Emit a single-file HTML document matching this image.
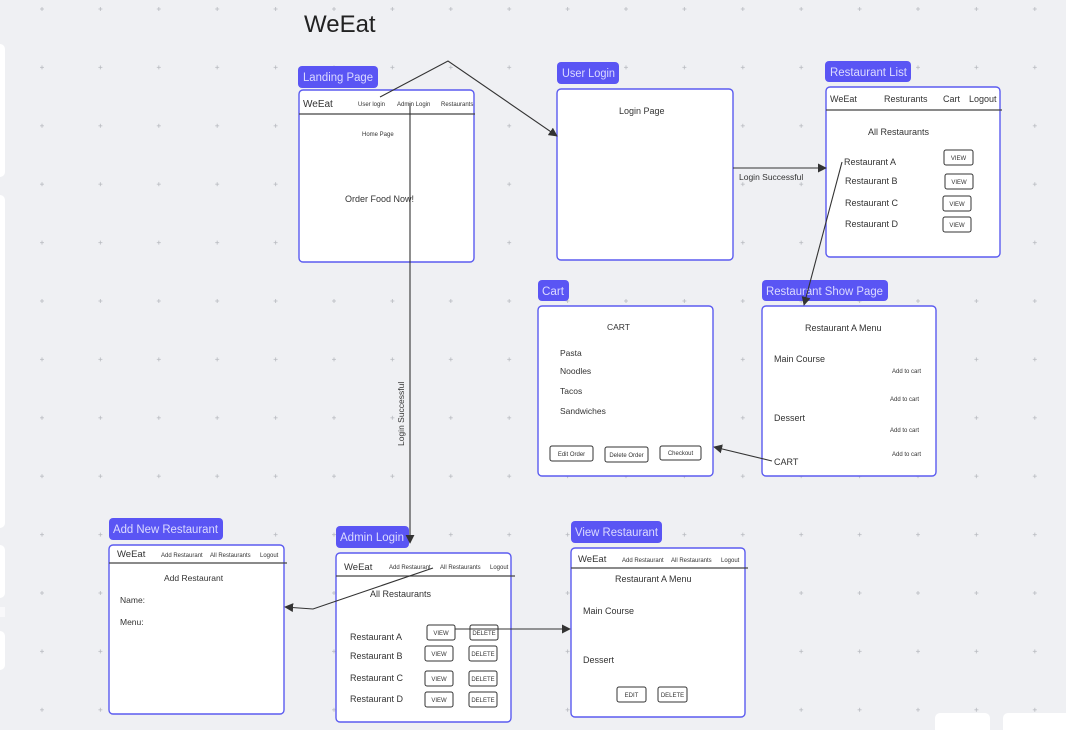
<!DOCTYPE html>
<html><head><meta charset="utf-8"><style>
html,body{margin:0;padding:0;background:#eff0f3;}
svg{display:block;font-family:"Liberation Sans",sans-serif;}
</style></head><body>
<svg width="1066" height="730" viewBox="0 0 1066 730" xmlns="http://www.w3.org/2000/svg">
<defs>
<pattern id="g" x="38.5" y="5.5" width="58.4" height="58.4" patternUnits="userSpaceOnUse">
<path d="M1.5 3.5h4M3.5 1.5v4" stroke="#b8bac0" stroke-width="0.8"/>
</pattern>
<marker id="a" viewBox="0 0 10 10" refX="9" refY="5" markerWidth="9" markerHeight="9" orient="auto" markerUnits="userSpaceOnUse"><path d="M0 0L10 5L0 10z" fill="#333"/></marker>
</defs>
<rect width="1066" height="730" fill="#eff0f3"/>
<rect width="1066" height="730" fill="url(#g)"/>
<g fill="#fff">
<rect x="-6" y="44" width="11" height="133" rx="5"/>
<rect x="-6" y="195" width="11" height="333" rx="5"/>
<rect x="-6" y="545" width="11" height="53" rx="5"/>
<rect x="-6" y="607" width="11" height="10" fill="#f8f8fa"/>
<rect x="-6" y="631" width="11" height="39" rx="5"/>
<rect x="935" y="713" width="55" height="25" rx="5"/>
<rect x="1003" y="713" width="70" height="25" rx="5"/>
</g>
<text x="304" y="32" font-size="24" fill="#222">WeEat</text>

<g stroke="#5b5bf0" stroke-width="1.4" fill="#fff">
<rect x="299" y="90" width="175" height="172" rx="4"/>
<rect x="557" y="89" width="176" height="171" rx="4"/>
<rect x="826" y="87" width="174" height="170" rx="4"/>
<rect x="762" y="306" width="174" height="170" rx="4"/>
<rect x="538" y="306" width="175" height="170" rx="4"/>
<rect x="109" y="545" width="175" height="169" rx="4"/>
<rect x="336" y="553" width="175" height="169" rx="4"/>
<rect x="571" y="548" width="174" height="169" rx="4"/>
</g>
<g fill="#5a55f4">
<rect x="298" y="66" width="80" height="22" rx="4"/>
<rect x="557" y="62" width="62" height="22" rx="4"/>
<rect x="825" y="61" width="86" height="21" rx="4"/>
<rect x="762" y="280" width="126" height="21" rx="4"/>
<rect x="538" y="280" width="31" height="21" rx="4"/>
<rect x="109" y="518" width="114" height="22" rx="4"/>
<rect x="336" y="526" width="73" height="22" rx="4"/>
<rect x="571" y="521" width="91" height="22" rx="4"/>
</g>
<g fill="#dcdbff" font-size="11.5" lengthAdjust="spacingAndGlyphs">
<text x="303" y="81" textLength="70" lengthAdjust="spacingAndGlyphs">Landing Page</text>
<text x="562" y="77" textLength="53" lengthAdjust="spacingAndGlyphs">User Login</text>
<text x="830" y="76" textLength="77" lengthAdjust="spacingAndGlyphs">Restaurant List</text>
<text x="766" y="295" textLength="117" lengthAdjust="spacingAndGlyphs">Restaurant Show Page</text>
<text x="542" y="295" textLength="22" lengthAdjust="spacingAndGlyphs">Cart</text>
<text x="113" y="533" textLength="105" lengthAdjust="spacingAndGlyphs">Add New Restaurant</text>
<text x="340" y="541" textLength="64" lengthAdjust="spacingAndGlyphs">Admin Login</text>
<text x="575" y="536" textLength="83" lengthAdjust="spacingAndGlyphs">View Restaurant</text>
</g>
<g stroke="#444" stroke-width="1.2">
<line x1="299" y1="114" x2="475" y2="114"/>
<line x1="826" y1="110" x2="1002" y2="110"/>
<line x1="109" y1="563" x2="287" y2="563"/>
<line x1="336" y1="576" x2="515" y2="576"/>
<line x1="571" y1="568" x2="748" y2="568"/>
</g>
<g fill="#333">
<text x="303" y="107" font-size="10">WeEat</text>
<text x="358" y="106" font-size="6">User login</text>
<text x="397" y="106" font-size="6">Admin Login</text>
<text x="441" y="106" font-size="6">Restaurants</text>
<text x="362" y="136" font-size="6">Home Page</text>
<text x="345" y="202" font-size="9">Order Food Now!</text>
<text x="619" y="114" font-size="9">Login Page</text>
<text x="739" y="180" font-size="8.5">Login Successful</text>
<text x="830" y="102" font-size="9">WeEat</text>
<text x="884" y="102" font-size="9">Resturants</text>
<text x="943" y="102" font-size="9">Cart</text>
<text x="969" y="102" font-size="9">Logout</text>
<text x="868" y="135" font-size="9">All Restaurants</text>
<text x="844" y="165" font-size="9">Restaurant A</text>
<text x="845" y="184" font-size="9">Restaurant B</text>
<text x="845" y="206" font-size="9">Restaurant C</text>
<text x="845" y="227" font-size="9">Restaurant D</text>
<text x="805" y="331" font-size="9">Restaurant A Menu</text>
<text x="774" y="362" font-size="9">Main Course</text>
<text x="892" y="373" font-size="6">Add to cart</text>
<text x="890" y="401" font-size="6">Add to cart</text>
<text x="774" y="421" font-size="9">Dessert</text>
<text x="890" y="432" font-size="6">Add to cart</text>
<text x="892" y="456" font-size="6">Add to cart</text>
<text x="774" y="465" font-size="9">CART</text>
<text x="607" y="330" font-size="8.5">CART</text>
<text x="560" y="356" font-size="8.5">Pasta</text>
<text x="560" y="374" font-size="8.5">Noodles</text>
<text x="560" y="394" font-size="8.5">Tacos</text>
<text x="560" y="414" font-size="8.5">Sandwiches</text>
<text x="117" y="557" font-size="9.5">WeEat</text>
<text x="161" y="557" font-size="6">Add Restaurant</text>
<text x="210" y="557" font-size="6">All Restaurants</text>
<text x="260" y="557" font-size="6">Logout</text>
<text x="164" y="581" font-size="8.5">Add Restaurant</text>
<text x="120" y="603" font-size="8.5">Name:</text>
<text x="120" y="625" font-size="8.5">Menu:</text>
<text x="344" y="570" font-size="9.5">WeEat</text>
<text x="389" y="569" font-size="6">Add Restaurant</text>
<text x="440" y="569" font-size="6">All Restaurants</text>
<text x="490" y="569" font-size="6">Logout</text>
<text x="370" y="597" font-size="9">All Restaurants</text>
<text x="350" y="640" font-size="9">Restaurant A</text>
<text x="350" y="659" font-size="9">Restaurant B</text>
<text x="350" y="681" font-size="9">Restaurant C</text>
<text x="350" y="702" font-size="9">Restaurant D</text>
<text x="578" y="562" font-size="9.5">WeEat</text>
<text x="622" y="562" font-size="6">Add Restaurant</text>
<text x="671" y="562" font-size="6">All Restaurants</text>
<text x="721" y="562" font-size="6">Logout</text>
<text x="615" y="582" font-size="9">Restaurant A Menu</text>
<text x="583" y="614" font-size="9">Main Course</text>
<text x="583" y="663" font-size="9">Dessert</text>
<text transform="translate(404,446) rotate(-90)" font-size="8.5">Login Successful</text>
</g>
<g fill="#fff" stroke="#333" stroke-width="1">
<rect x="944" y="150" width="29" height="15" rx="2"/>
<rect x="945" y="174" width="28" height="15" rx="2"/>
<rect x="943" y="196" width="28" height="15" rx="2"/>
<rect x="943" y="217" width="28" height="15" rx="2"/>
<rect x="550" y="446" width="43" height="15" rx="2"/>
<rect x="605" y="447" width="43" height="15" rx="2"/>
<rect x="660" y="446" width="41" height="14" rx="2"/>
<rect x="427" y="625" width="28" height="15" rx="2"/>
<rect x="470" y="625" width="28" height="15" rx="2"/>
<rect x="425" y="646" width="28" height="15" rx="2"/>
<rect x="469" y="646" width="28" height="15" rx="2"/>
<rect x="425" y="671" width="28" height="15" rx="2"/>
<rect x="469" y="671" width="28" height="15" rx="2"/>
<rect x="425" y="692" width="28" height="15" rx="2"/>
<rect x="469" y="692" width="28" height="15" rx="2"/>
<rect x="617" y="687" width="29" height="15" rx="2"/>
<rect x="658" y="687" width="29" height="15" rx="2"/>
</g>
<g fill="#333" font-size="6" text-anchor="middle">
<text x="958.5" y="160">VIEW</text>
<text x="959" y="184">VIEW</text>
<text x="957" y="206">VIEW</text>
<text x="957" y="227">VIEW</text>
<text x="571.5" y="456">Edit Order</text>
<text x="626.5" y="457">Delete Order</text>
<text x="680.5" y="455">Checkout</text>
<text x="441" y="635">VIEW</text>
<text x="484" y="635">DELETE</text>
<text x="439" y="656">VIEW</text>
<text x="483" y="656">DELETE</text>
<text x="439" y="681">VIEW</text>
<text x="483" y="681">DELETE</text>
<text x="439" y="702">VIEW</text>
<text x="483" y="702">DELETE</text>
<text x="631.5" y="697">EDIT</text>
<text x="672.5" y="697">DELETE</text>
</g>
<g stroke="#333" stroke-width="1.1" fill="none" marker-end="url(#a)">
<polyline points="380,97 448,61 557,136"/>
<polyline points="410,103 410,543"/>
<polyline points="733,168 826,168"/>
<polyline points="842,162 804,305"/>
<polyline points="772,461 714,447"/>
<polyline points="433,568 313,609 285,607"/>
<polyline points="455,629 570,629"/>
</g>
</svg>
</body></html>
